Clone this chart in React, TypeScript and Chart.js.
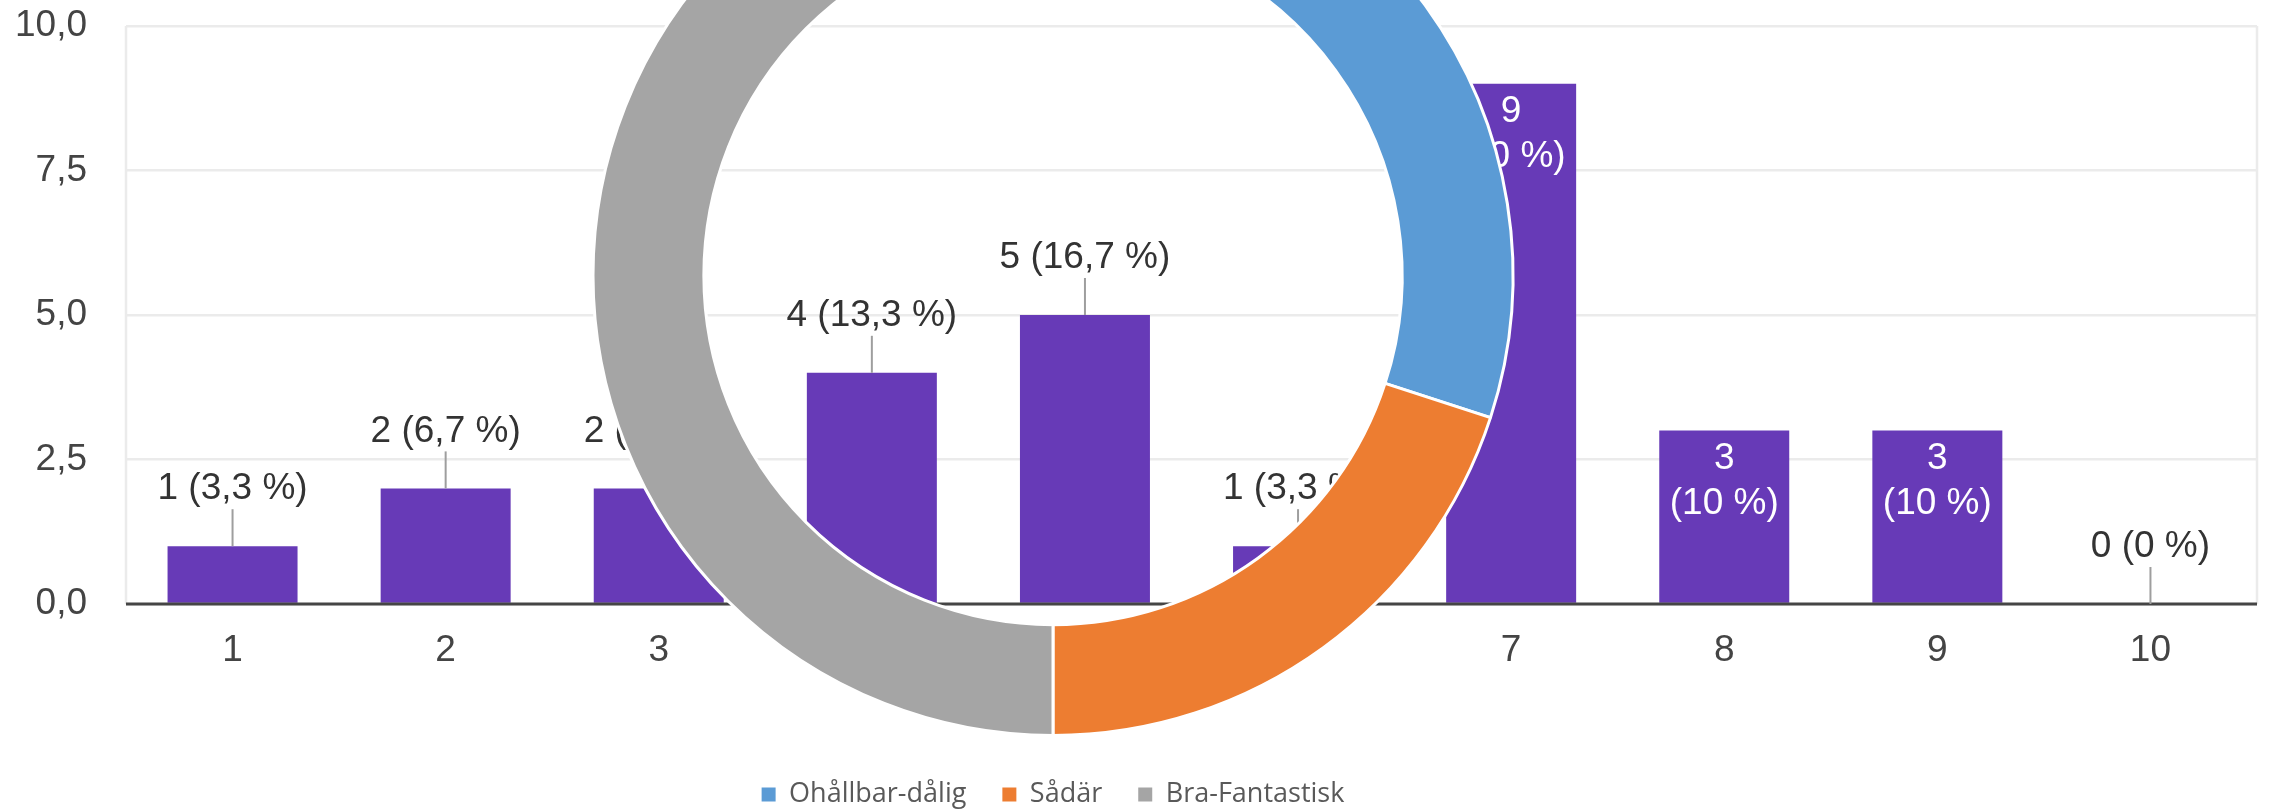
import React, { useEffect, useRef } from 'react';
import { Chart, registerables } from 'chart.js';

Chart.register(...registerables);

// ---------- data ----------
const categories = ['1', '2', '3', '4', '5', '6', '7', '8', '9', '10'];
const counts = [1, 2, 2, 4, 5, 1, 9, 3, 3, 0];
const yTickValues = [0, 2.5, 5, 7.5, 10];

const ringLabels = ['Ohållbar-dålig', 'Sådär', 'Bra-Fantastisk'];
const ringValues = [9, 6, 15];
const ringColors = ['#5b9bd5', '#ed7d31', '#a5a5a5'];

const barColor = '#673ab7';

// ---------- layout ----------
const W = 2269;
const H = 812;
const PLOT_LEFT = 126;
const PLOT_RIGHT_PAD = 12;
const PLOT_TOP = 26;
const PLOT_BOTTOM = 604;

const RING_CX = 1053;
const RING_CANVAS_TOP = -200;
const RING_CANVAS_H = 1018;

const total = counts.reduce((a, b) => a + b, 0);
const fmtNum = (v: number, d: number) => v.toFixed(d).replace('.', ',');
const fmtPct = (v: number) => {
  const p = Math.round((v / total) * 1000) / 10;
  return (Number.isInteger(p) ? String(p) : p.toFixed(1)).replace('.', ',');
};

const FONT = '"Liberation Sans", Arial, sans-serif';

const barLabelPlugin = {
  id: 'barLabels',
  afterDatasetsDraw(chart: any) {
    const { ctx, chartArea } = chart;
    const { left, right, top } = chartArea;
    const y0 = chart.scales.y.getPixelForValue(0);
    ctx.save();
    // frame verticals
    ctx.strokeStyle = '#ebebeb';
    ctx.lineWidth = 2.5;
    ctx.beginPath();
    ctx.moveTo(left, top);
    ctx.lineTo(left, y0);
    ctx.moveTo(right, top);
    ctx.lineTo(right, y0);
    ctx.stroke();
    // baseline
    ctx.strokeStyle = '#454545';
    ctx.lineWidth = 3;
    ctx.beginPath();
    ctx.moveTo(left, y0);
    ctx.lineTo(right, y0);
    ctx.stroke();

    const meta = chart.getDatasetMeta(0);
    ctx.font = `37px ${FONT}`;
    ctx.textAlign = 'center';
    ctx.textBaseline = 'middle';
    meta.data.forEach((bar: any, i: number) => {
      const v = counts[i];
      const line2 = `(${fmtPct(v)} %)`;
      const { x, y, width } = bar.getProps(['x', 'y', 'width'], true);
      const h = y0 - y;
      if (h > 150 && ctx.measureText(line2).width < width - 8) {
        ctx.fillStyle = '#ffffff';
        ctx.fillText(String(v), x, y + 28);
        ctx.fillText(line2, x, y + 73);
      } else {
        ctx.strokeStyle = '#9e9e9e';
        ctx.lineWidth = 2;
        ctx.beginPath();
        ctx.moveTo(x, y);
        ctx.lineTo(x, y - 37);
        ctx.stroke();
        ctx.fillStyle = '#333333';
        ctx.fillText(`${v} ${line2}`, x, y - 57);
      }
    });
    ctx.restore();
  },
};

export default function App() {
  const barRef = useRef<HTMLCanvasElement>(null);
  const ringRef = useRef<HTMLCanvasElement>(null);

  useEffect(() => {
    if (!barRef.current || !ringRef.current) return;

    const barChart = new Chart(barRef.current, {
      type: 'bar',
      data: {
        labels: categories,
        datasets: [
          {
            data: counts,
            backgroundColor: barColor,
            borderWidth: 0,
            barPercentage: 0.61,
            categoryPercentage: 1,
          },
        ],
      },
      options: {
        responsive: false,
        animation: false,
        devicePixelRatio: 1,
        events: [],
        layout: { padding: { top: PLOT_TOP, right: PLOT_RIGHT_PAD, left: 0, bottom: 0 } },
        plugins: { legend: { display: false }, tooltip: { enabled: false } },
        scales: {
          x: {
            grid: { display: false, drawTicks: false },
            border: { display: false },
            ticks: { font: { family: FONT, size: 37 }, color: '#444444', padding: 25 },
            afterFit: (s: any) => {
              s.height = H - PLOT_BOTTOM;
              s.paddingLeft = 0;
              s.paddingRight = 0;
            },
          },
          y: {
            min: 0,
            max: 10,
            grid: { color: '#ebebeb', lineWidth: 2.5, drawTicks: false },
            border: { display: false },
            afterBuildTicks: (s: any) => {
              s.ticks = yTickValues.map((v) => ({ value: v }));
            },
            ticks: {
              font: { family: FONT, size: 37 },
              color: '#444444',
              padding: 39,
              callback: (v: any) => fmtNum(Number(v), 1),
            },
            afterFit: (s: any) => {
              s.width = PLOT_LEFT;
              s.paddingTop = 0;
              s.paddingBottom = 0;
            },
          },
        },
      },
      plugins: [barLabelPlugin],
    } as any);

    const ringChart = new Chart(ringRef.current, {
      type: 'doughnut',
      data: {
        labels: ringLabels,
        datasets: [
          {
            data: ringValues,
            backgroundColor: ringColors,
            borderColor: '#ffffff',
            borderWidth: 3,
          },
        ],
      },
      options: {
        responsive: false,
        animation: false,
        devicePixelRatio: 1,
        events: [],
        radius: 460,
        cutout: '75.9%',
        layout: { padding: { top: 6, left: 0, right: W - 2 * RING_CX, bottom: 0 } },
        plugins: {
          tooltip: { enabled: false },
          legend: {
            position: 'bottom',
            labels: {
              font: { family: '"Open Sans", sans-serif', size: 27 },
              color: '#595959',
              boxWidth: 14,
              boxHeight: 14,
              padding: 36,
              generateLabels: () =>
                ringLabels.map((t, i) => ({
                  text: t,
                  fillStyle: ringColors[i],
                  strokeStyle: ringColors[i],
                  lineWidth: 0,
                  hidden: false,
                  index: i,
                  fontColor: '#595959',
                })),
            },
          },
        },
      },
    } as any);

    return () => {
      barChart.destroy();
      ringChart.destroy();
    };
  }, []);

  return (
    <div
      style={{
        position: 'fixed',
        left: 0,
        top: 0,
        width: W,
        height: H,
        overflow: 'hidden',
        background: '#ffffff',
      }}
    >
      <canvas
        ref={barRef}
        width={W}
        height={H}
        style={{ position: 'absolute', left: 0, top: 0, width: W, height: H }}
      />
      <canvas
        ref={ringRef}
        width={W}
        height={RING_CANVAS_H}
        style={{ position: 'absolute', left: 0, top: RING_CANVAS_TOP, width: W, height: RING_CANVAS_H }}
      />
    </div>
  );
}
